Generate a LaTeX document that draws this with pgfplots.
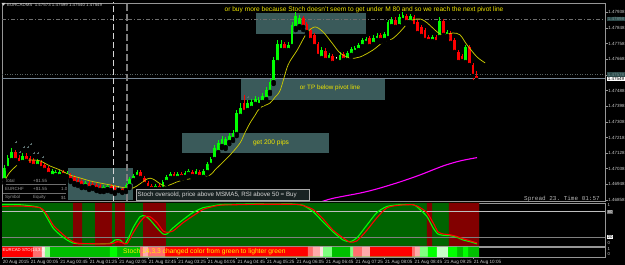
\documentclass[border=0pt]{standalone}
\usepackage{pgfplots}
\pgfplotsset{compat=1.18}
\usepackage{pgfplotstable}
\usepackage{fontspec}
\setmainfont{Liberation Sans}
\setmonofont{Liberation Mono}
\pgfdeclarelayer{bbg}
\pgfdeclarelayer{bg}
\pgfsetlayers{bbg,bg,main}

\definecolor{bull}{RGB}{0,255,0}
\definecolor{bear}{RGB}{255,0,0}
\definecolor{maline}{RGB}{200,200,0}
\definecolor{annot}{RGB}{240,230,0}
\definecolor{boxfill}{RGB}{58,90,90}
\definecolor{frm}{RGB}{150,150,150}
\definecolor{lbl}{RGB}{205,205,205}
\definecolor{oscgreen}{RGB}{0,100,0}
\definecolor{oscred}{RGB}{130,0,0}
\definecolor{cbred}{RGB}{255,0,0}
\definecolor{cbsalmon}{RGB}{255,110,110}
\definecolor{cbpink}{RGB}{255,170,170}
\definecolor{cbwhite}{RGB}{255,225,225}
\definecolor{cblgreen}{RGB}{128,255,128}
\definecolor{cbgreen}{RGB}{0,190,0}
\definecolor{cbbright}{RGB}{0,255,0}
\definecolor{cbpale}{RGB}{200,255,200}
\definecolor{magline}{RGB}{255,0,255}

% bullish candles: index open high low close
\pgfplotstableread{
i o h l c
-1 1.46973 1.47060 1.46956 1.47042
0 1.47042 1.47117 1.47031 1.47100
1 1.47088 1.47157 1.47077 1.47134
4 1.47077 1.47129 1.47065 1.47111
8 1.47054 1.47094 1.47042 1.47083
12 1.46996 1.47037 1.46985 1.47025
13 1.47002 1.47031 1.46991 1.47019
14 1.46996 1.47031 1.46985 1.47019
16 1.46996 1.47025 1.46985 1.47014
21 1.46939 1.46968 1.46927 1.46956
26 1.46916 1.46945 1.46904 1.46933
27 1.46922 1.46950 1.46910 1.46939
32 1.46916 1.46956 1.46904 1.46945
33 1.46939 1.46991 1.46927 1.46979
34 1.46973 1.47008 1.46962 1.46996
35 1.46991 1.47031 1.46979 1.47019
40 1.46922 1.46950 1.46910 1.46939
42 1.46922 1.46973 1.46916 1.46962
43 1.46962 1.47002 1.46950 1.46991
44 1.46985 1.47019 1.46973 1.47008
46 1.46985 1.47019 1.46979 1.47008
48 1.46991 1.47025 1.46979 1.47014
49 1.47008 1.47037 1.46996 1.47025
51 1.46996 1.47037 1.46985 1.47025
53 1.46991 1.47037 1.46979 1.47025
54 1.47019 1.47077 1.47008 1.47065
55 1.47060 1.47106 1.47048 1.47094
56 1.47094 1.47175 1.47083 1.47157
57 1.47134 1.47203 1.47123 1.47186
58 1.47169 1.47226 1.47157 1.47209
59 1.47163 1.47221 1.47152 1.47209
60 1.47192 1.47244 1.47180 1.47226
61 1.47209 1.47261 1.47198 1.47244
62 1.47238 1.47376 1.47226 1.47359
63 1.47342 1.47416 1.47330 1.47388
65 1.47376 1.47434 1.47365 1.47416
66 1.47388 1.47439 1.47376 1.47422
67 1.47411 1.47457 1.47399 1.47439
68 1.47405 1.47451 1.47393 1.47434
69 1.47422 1.47474 1.47411 1.47457
70 1.47439 1.47508 1.47428 1.47491
71 1.47480 1.47554 1.47468 1.47537
72 1.47537 1.47681 1.47526 1.47664
73 1.47652 1.47779 1.47641 1.47756
74 1.47721 1.47779 1.47710 1.47756
76 1.47721 1.47767 1.47710 1.47750
77 1.47744 1.47882 1.47733 1.47865
78 1.47848 1.47940 1.47836 1.47917
79 1.47859 1.47923 1.47848 1.47905
85 1.47675 1.47739 1.47664 1.47721
87 1.47664 1.47704 1.47652 1.47693
90 1.47652 1.47710 1.47641 1.47693
92 1.47664 1.47716 1.47652 1.47704
93 1.47693 1.47739 1.47681 1.47727
94 1.47710 1.47744 1.47698 1.47733
95 1.47721 1.47762 1.47710 1.47750
96 1.47744 1.47790 1.47733 1.47779
97 1.47762 1.47796 1.47750 1.47785
99 1.47756 1.47808 1.47744 1.47790
100 1.47779 1.47819 1.47767 1.47802
102 1.47779 1.47825 1.47767 1.47813
103 1.47790 1.47894 1.47779 1.47882
104 1.47859 1.47911 1.47848 1.47894
106 1.47859 1.47928 1.47848 1.47911
107 1.47894 1.47940 1.47882 1.47923
109 1.47882 1.47928 1.47871 1.47917
115 1.47773 1.47808 1.47756 1.47796
117 1.47796 1.47911 1.47785 1.47888
119 1.47802 1.47836 1.47790 1.47825
124 1.47652 1.47750 1.47641 1.47739
}\bullT

% bearish candles
\pgfplotstableread{
i o h l c
2 1.47134 1.47146 1.47071 1.47088
3 1.47100 1.47117 1.47060 1.47071
5 1.47111 1.47129 1.47071 1.47083
6 1.47100 1.47111 1.47048 1.47060
7 1.47088 1.47100 1.47042 1.47054
9 1.47077 1.47088 1.47031 1.47042
10 1.47060 1.47071 1.47019 1.47031
11 1.47042 1.47054 1.46996 1.47008
15 1.47019 1.47031 1.46991 1.47002
17 1.47002 1.47014 1.46962 1.46973
18 1.46991 1.47002 1.46945 1.46956
19 1.46973 1.46985 1.46939 1.46950
20 1.46968 1.46979 1.46927 1.46939
22 1.46956 1.46968 1.46916 1.46927
23 1.46950 1.46962 1.46922 1.46933
24 1.46945 1.46956 1.46910 1.46922
25 1.46939 1.46950 1.46904 1.46916
28 1.46939 1.46950 1.46904 1.46916
29 1.46933 1.46945 1.46893 1.46904
31 1.46922 1.46933 1.46899 1.46904
36 1.47019 1.47031 1.46973 1.46985
37 1.46985 1.46996 1.46939 1.46950
38 1.46956 1.46968 1.46916 1.46927
39 1.46939 1.46950 1.46910 1.46922
41 1.46939 1.46950 1.46916 1.46922
45 1.47008 1.47019 1.46973 1.46985
47 1.47008 1.47019 1.46979 1.46991
50 1.47019 1.47031 1.46985 1.46996
52 1.47019 1.47031 1.46979 1.46991
64 1.47416 1.47462 1.47353 1.47365
75 1.47756 1.47767 1.47704 1.47721
80 1.47905 1.47917 1.47836 1.47854
81 1.47871 1.47882 1.47813 1.47825
82 1.47836 1.47848 1.47767 1.47779
83 1.47808 1.47819 1.47733 1.47744
84 1.47756 1.47767 1.47675 1.47687
86 1.47716 1.47733 1.47652 1.47664
88 1.47687 1.47698 1.47635 1.47647
91 1.47698 1.47710 1.47652 1.47664
98 1.47790 1.47802 1.47733 1.47744
101 1.47808 1.47819 1.47767 1.47779
105 1.47894 1.47911 1.47842 1.47854
108 1.47917 1.47928 1.47871 1.47882
110 1.47911 1.47923 1.47848 1.47859
111 1.47882 1.47894 1.47808 1.47819
112 1.47854 1.47865 1.47790 1.47802
113 1.47836 1.47848 1.47767 1.47779
114 1.47796 1.47808 1.47762 1.47773
116 1.47796 1.47808 1.47756 1.47767
118 1.47888 1.47900 1.47796 1.47808
120 1.47819 1.47831 1.47750 1.47762
121 1.47779 1.47790 1.47693 1.47710
122 1.47710 1.47721 1.47641 1.47652
123 1.47687 1.47698 1.47647 1.47658
125 1.47739 1.47750 1.47624 1.47635
126 1.47635 1.47647 1.47537 1.47572
127 1.47573 1.47599 1.47540 1.47549
}\bearT

% doji candles
\pgfplotstableread{
i o h l c
30 1.46922 1.46939 1.46910 1.46917
89 1.47664 1.47681 1.47641 1.47659
}\dojiT

\pgfplotsset{
  wick/.style={only marks, mark=none, error bars/y dir=plus, error bars/y explicit,
    error bars/error mark=none, error bars/error bar style={line width=0.8pt, draw=#1}},
  body/.style={only marks, mark=none, error bars/y dir=plus, error bars/y explicit,
    error bars/error mark=none, error bars/error bar style={line width=2.7pt, draw=#1}},
}

\begin{document}
\begin{tikzpicture}[x=1pt,y=1pt]
\path[use as bounding box] (0,0) rectangle (625,265);
\begin{pgfonlayer}{bbg}
\fill[black] (0,0) rectangle (625,265);
\end{pgfonlayer}

% ---------------- main price panel ----------------
\begin{axis}[
  at={(2pt,64pt)}, anchor=south west, scale only axis,
  width=603pt, height=198pt,
  xmin=-1.585, xmax=161.76, ymin=1.468524, ymax=1.479917,
  axis line style={frm, line width=0.7pt},
  xtick=\empty, scaled y ticks=false,
  ytick={1.46858,1.46948,1.47038,1.47128,1.47218,1.47308,1.47398,1.47488,1.47578,1.47668,1.47758,1.47848,1.47938},
  yticklabels={1.46858,1.46948,1.47038,1.47128,1.47218,1.47308,1.47398,1.47488,1.47578,1.47668,1.47758,1.47848,1.47938},
  yticklabel pos=right, ytick pos=right, tick align=outside, major tick length=2.5pt,
  tick style={frm, line width=0.6pt},
  yticklabel style={font=\fontsize{4.5}{5}\selectfont, text=lbl, inner sep=0.6pt},
  clip=true,
]
% price levels
\addplot[color={rgb,255:red,110;green,110;blue,110}, dash pattern=on 4pt off 2pt on 1pt off 2pt, line width=0.6pt] coordinates {(-1.585,1.47898) (161.76,1.47898)};
\addplot[color={rgb,255:red,90;green,100;blue,100}, dash pattern=on 1pt off 1.5pt, line width=0.6pt] coordinates {(-1.585,1.47580) (161.76,1.47580)};
\addplot[color={rgb,255:red,120;green,135;blue,150}, line width=0.7pt] coordinates {(-1.585,1.47558) (161.76,1.47558)};
% vertical session lines
\addplot[color={rgb,255:red,215;green,215;blue,215}, dash pattern=on 6pt off 3pt, line width=0.8pt] coordinates {(28.48,1.4685) (28.48,1.4800)};
\addplot[color={rgb,255:red,125;green,125;blue,125}, dash pattern=on 7pt off 3pt, line width=1.3pt] coordinates {(32.28,1.4685) (32.28,1.4800)};
% fractal marks
\addplot[only marks, mark=+, mark size=1.3pt, color={rgb,255:red,90;green,110;blue,110}] coordinates {(2.21,1.47192) (3.29,1.47134) (4.37,1.47163) (5.46,1.47163) (6.27,1.47180) (7.08,1.47129) (8.17,1.47129) (9.52,1.47106) (65.05,1.47451)};
% candles: wick from low to high, body from lower to upper of open/close
\addplot[wick=bull] table[x=i, y=l, y error expr={\thisrow{h}-\thisrow{l}}] {\bullT};
\addplot[body=bull] table[x=i, y=o, y error expr={\thisrow{c}-\thisrow{o}}] {\bullT};
\addplot[wick=bear] table[x=i, y=l, y error expr={\thisrow{h}-\thisrow{l}}] {\bearT};
\addplot[body=bear] table[x=i, y=c, y error expr={\thisrow{o}-\thisrow{c}}] {\bearT};
\addplot[wick=white] table[x=i, y=l, y error expr={\thisrow{h}-\thisrow{l}}] {\dojiT};
\addplot[body=white] table[x=i, y=c, y error expr={\thisrow{o}-\thisrow{c}+0.00002}] {\dojiT};
% moving averages
\addplot[maline, line width=0.75pt, smooth, tension=0.5] coordinates {
(-0.77,1.46973) (0.58,1.47019) (3.29,1.47071) (6.0,1.47088) (8.71,1.47083) (11.42,1.47054) (14.13,1.47031) (16.84,1.47002) (19.55,1.46985) (22.26,1.46968) (24.97,1.46956) (27.68,1.46945) (30.39,1.46933) (33.9,1.46927) (37.7,1.46979) (39.3,1.46979) (42.6,1.46939) (46.6,1.46968) (52.1,1.46991) (54.8,1.47002) (56.1,1.47031) (57.5,1.47060) (60.2,1.47117) (62.9,1.47186) (64.2,1.47244) (65.6,1.47301) (67.0,1.47347) (68.3,1.47388) (71.0,1.47416) (72.4,1.47451) (73.8,1.47491) (75.9,1.47635) (78.4,1.47721) (81.0,1.47819) (83.2,1.47854) (85.4,1.47825) (87.8,1.47762) (90.0,1.47704) (92.7,1.47675) (95.4,1.47681) (98.9,1.47721) (101.7,1.47767) (104.1,1.47785) (106.2,1.47825) (109.0,1.47888) (111.7,1.47900) (113.6,1.47877) (116.3,1.47825) (117.9,1.47808) (120.6,1.47819) (122.5,1.47808) (124.4,1.47750) (127.1,1.47681) (129.3,1.47647)};
\addplot[magline, line width=1.1pt, smooth] coordinates {
(84.5,1.46845) (88.1,1.46868) (95.4,1.46898) (100,1.46922) (106.2,1.46962) (111.6,1.47002) (117.9,1.47054) (122.5,1.47083) (127.1,1.47102)};
\end{axis}

% ---------------- stochastic panel ----------------
\begin{axis}[
  at={(2pt,19pt)}, anchor=south west, scale only axis,
  width=603pt, height=43pt,
  xmin=-1.585, xmax=161.76, ymin=0, ymax=100,
  axis line style={frm, line width=0.7pt},
  xtick=\empty, ytick=\empty, clip=true,
]
\addplot[const plot, fill=oscgreen, draw=none] coordinates {(-1.585,100) (127.63,0)} \closedcycle;
\addplot[const plot, fill=oscred, draw=none] coordinates {(17.65,100) (20.09,0) (23.61,100) (28.21,0) (29.03,100) (31.73,0) (36.61,100) (42.84,0) (113.5,100) (114.9,0) (119.5,100) (127.63,0)} \closedcycle;
\addplot[color={rgb,255:red,190;green,190;blue,190}, line width=0.6pt] coordinates {(-1.585,80) (161.76,80)};
\addplot[color={rgb,255:red,128;green,128;blue,128}, line width=1.4pt] coordinates {(-1.585,20) (161.76,20)};
\addplot[bull, line width=1.1pt, smooth, tension=0.4] coordinates {
(-1.58,96) (3.29,96) (8.71,89) (10.6,66) (12.23,42) (14.13,26) (16.02,14) (17.65,7) (19.54,5) (23.61,5) (27.67,6) (29.03,14) (30.38,14) (31.73,5) (33.09,26) (33.9,42) (35.8,68) (37.15,70) (38.51,61) (40.41,42) (42.03,28) (43.11,28) (44.74,42) (47.44,61) (50.15,78) (52.86,89) (54.76,92) (57.47,96) (62,97) (67,98) (72,97) (76,98) (79.14,96) (79.95,95) (82.66,80) (85.37,56) (88.08,33) (90.79,14) (92.69,10) (94.58,19) (97.29,49) (100,78) (102.7,92) (106.1,96) (109.8,96) (111.1,89) (113.5,69) (115.2,42) (116.5,28) (117.9,25) (119.8,24) (121.7,20) (123.3,14) (125.2,10) (127.1,5)};
\addplot[bear, line width=1.1pt, smooth, tension=0.4] coordinates {
(-1.58,92) (3.29,93) (8.71,89) (10.6,73) (12.23,49) (14.13,33) (16.02,19) (17.65,10) (19.54,6) (27.67,5) (29.57,10) (30.92,8) (32.28,5) (33.9,30) (35.8,56) (37.15,68) (38.51,68) (40.41,54) (42.03,35) (43.11,32) (44.74,35) (47.44,54) (50.15,70) (52.86,85) (54.76,90) (57.47,95) (62,96) (67,97) (72,97) (76,97) (79.14,96) (82.66,85) (85.37,63) (88.08,37) (90.79,19) (92.69,9) (94.58,12) (97.29,37) (100,66) (102.7,89) (106.1,95) (109.8,96) (111.1,92) (113.5,78) (115.2,54) (116.5,33) (117.9,28) (119.8,26) (121.7,22) (123.3,17) (125.2,12) (127.1,7)};
\end{axis}

% ---------------- colour bar panel ----------------
\begin{axis}[
  at={(2pt,8pt)}, anchor=south west, scale only axis,
  width=603pt, height=10pt,
  xmin=-1.585, xmax=161.76, ymin=0, ymax=1,
  axis line style={frm, line width=0.7pt},
  ytick=\empty, xtick pos=bottom, tick align=outside, major tick length=2.2pt,
  tick style={frm, line width=0.5pt},
  xtick={-1.585,6,14,22,30,38,46,54,62,70,78,86,94,102,110,118,126},
  xticklabels={20 Aug 2015,21 Aug 00:05,21 Aug 00:45,21 Aug 01:25,21 Aug 02:05,21 Aug 02:45,21 Aug 03:25,21 Aug 04:05,21 Aug 04:45,21 Aug 05:25,21 Aug 06:05,21 Aug 06:45,21 Aug 07:25,21 Aug 08:05,21 Aug 08:45,21 Aug 09:25,21 Aug 10:05},
  xticklabel style={font=\fontsize{4.6}{5}\selectfont, text=lbl, anchor=north west, inner sep=0pt, xshift=0.6pt, yshift=-1.3pt},
  clip=true,
]
\addplot[const plot, fill=cbred, draw=none] coordinates {(-1.585,1) (6.81,0) (42.57,1) (81.3,0) (98.10,1) (109.48,0)} \closedcycle;
\addplot[const plot, fill=cbsalmon, draw=none] coordinates {(6.81,1) (9.25,0) (35.8,1) (36.61,0) (37.96,1) (42.57,0) (81.3,1) (82.66,0) (93.5,1) (95.94,0) (109.48,1) (110.29,0)} \closedcycle;
\addplot[const plot, fill=cbpink, draw=none] coordinates {(36.61,1) (37.96,0) (82.66,1) (84.56,0) (95.94,1) (98.10,0) (110.29,1) (111.64,0)} \closedcycle;
\addplot[const plot, fill=cbwhite, draw=none] coordinates {(9.25,1) (10.06,0) (84.56,1) (85.37,0)} \closedcycle;
\addplot[const plot, fill=cblgreen, draw=none] coordinates {(10.06,1) (11.42,0) (85.37,1) (87.81,0) (92.69,1) (93.5,0) (111.64,1) (113.81,0)} \closedcycle;
\addplot[const plot, fill=cbgreen, draw=none] coordinates {(11.42,1) (27.67,0) (29.57,1) (35.8,0) (87.81,1) (92.69,0) (121.67,1) (123.3,0) (124.65,1) (127.63,0)} \closedcycle;
\addplot[const plot, fill=cbbright, draw=none] coordinates {(27.67,1) (29.57,0) (113.81,1) (116.25,0) (119.23,1) (121.67,0) (123.3,1) (124.65,0)} \closedcycle;
\addplot[const plot, fill=cbpale, draw=none] coordinates {(116.25,1) (119.23,0)} \closedcycle;
\end{axis}

% ---------------- background annotations (behind candles) ----------------
\begin{pgfonlayer}{bg}
\fill[boxfill] (256,252) rectangle (366,231);
\fill[boxfill] (241,186) rectangle (385,165);
\fill[boxfill] (182,132) rectangle (329,112);
\fill[boxfill] (68,97) rectangle (133,65);
\begin{scope}[font=\fontsize{4.5}{5}\selectfont, text={rgb,255:red,150;green,150;blue,150}, inner sep=0pt]
\node[anchor=west] at (5,84.5) {Total};
\node[anchor=west] at (33,84.5) {+\$1.55};
\node[anchor=west] at (5,76) {EURCHF};
\node[anchor=west] at (33,76) {+\$1.55};
\node[anchor=west] at (61,76) {1.0};
\node[anchor=west] at (5,67.5) {Symbol};
\node[anchor=west] at (33,67.5) {Equity};
\node[anchor=west] at (61,67.5) {\$1};
\end{scope}
\draw[color={rgb,255:red,110;green,110;blue,110}, line width=0.4pt] (3,80.5) -- (66,80.5) (3,71.5) -- (66,71.5);
\end{pgfonlayer}

% ---------------- text annotations ----------------
\fill[lbl] (1.5,262) -- (5.5,262) -- (3.5,259.4) -- cycle;
\node[anchor=west, inner sep=0pt, font=\fontsize{4.4}{5}\selectfont, text=lbl] at (7,260.4) {EURCADMS\ \ 1.47573 1.47599 1.47540 1.47549};
\node[inner sep=0pt, font=\fontsize{6.6}{7}\selectfont, text=annot] at (364,255) {or buy more because Stoch doesn't seem to get under M 80 and so we reach the next pivot line};
\node[inner sep=0pt, font=\fontsize{6.3}{7}\selectfont, text=annot] at (330,177) {or TP below pivot line};
\node[inner sep=0pt, font=\fontsize{6.6}{7}\selectfont, text=annot] at (271,122) {get 200 pips};
\draw[color={rgb,255:red,170;green,170;blue,170}, fill={rgb,255:red,25;green,35;blue,35}, line width=0.5pt] (136,76) rectangle (309,65);
\node[anchor=west, inner sep=0pt, font=\fontsize{6.2}{7}\selectfont, text={rgb,255:red,215;green,215;blue,215}] at (137.5,70.3) {Stoch oversold, price above MSMA5, RSI above 50 = Buy};
\node[anchor=east, inner sep=0pt, font=\ttfamily\fontsize{6}{7}\selectfont, text={rgb,255:red,180;green,180;blue,180}] at (600,66.3) {Spread 23. Time 01:57};
% right axis price boxes
\node[anchor=west, inner sep=0.6pt, fill={rgb,255:red,45;green,75;blue,75}, font=\fontsize{4.5}{5}\selectfont, text={rgb,255:red,120;green,150;blue,150}] at (607,245.7) {1.47898};
\node[anchor=west, inner sep=0.6pt, fill={rgb,255:red,45;green,75;blue,75}, font=\fontsize{4.5}{5}\selectfont, text={rgb,255:red,120;green,150;blue,150}] at (607,190.5) {1.47578};
\node[anchor=west, inner sep=0.6pt, fill=white, font=\fontsize{4.5}{5}\selectfont, text=black] at (607,186) {1.47549};
% stochastic panel labels
\node[anchor=west, inner sep=0.4pt, font=\fontsize{4.3}{5}\selectfont, text=lbl] at (607,59.5) {1};
\node[anchor=west, inner sep=0.5pt, fill={rgb,255:red,100;green,100;blue,100}, font=\fontsize{4.3}{5}\selectfont, text=white] at (607,53.2) {80};
\node[anchor=west, inner sep=0.5pt, fill=white, font=\fontsize{4.3}{5}\selectfont, text=black] at (607,27.6) {20};
\node[anchor=west, inner sep=0.4pt, font=\fontsize{4.3}{5}\selectfont, text=lbl] at (607,21.5) {0};
\node[anchor=west, inner sep=0.4pt, font=\fontsize{4.3}{5}\selectfont, text=lbl] at (607,15.5) {1};
\node[anchor=west, inner sep=0.4pt, font=\fontsize{4.3}{5}\selectfont, text=lbl] at (607,11) {0};
% colour bar texts
\node[anchor=west, inner sep=0pt, font=\fontsize{4.3}{5}\selectfont, text=white] at (2.5,14.3) {EURCAD STO(14,3,3)};
\node[anchor=west, inner sep=0pt, font=\fontsize{6.7}{7}\selectfont, text=yellow] at (123,12.8) {Stoch 14,3,3 changed color from green to lighter green};
\end{tikzpicture}
\end{document}
